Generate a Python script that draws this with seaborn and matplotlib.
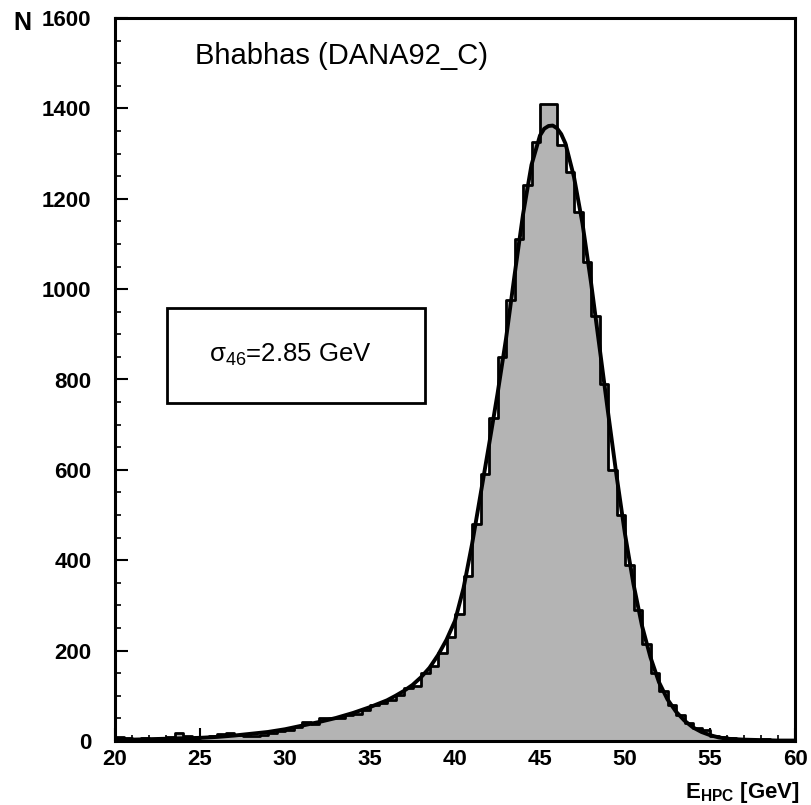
import numpy as np
import pandas as pd
import matplotlib
matplotlib.use("Agg")
import matplotlib.pyplot as plt
from matplotlib.patches import Rectangle
from matplotlib.ticker import MultipleLocator
import seaborn as sns

# ---- data ----
bin_edges = [20.0 + 0.5 * i for i in range(81)]
bin_counts = [
    8, 7, 5, 6, 4, 6, 9, 18, 12, 6,          # 20.0 - 24.5
    8, 10, 16, 18, 13, 10, 11, 14, 17, 22,    # 25.0 - 29.5
    24, 32, 42, 38, 50, 50, 52, 58, 60, 68,   # 30.0 - 34.5
    80, 84, 90, 102, 118, 122, 150, 165, 195, 230,  # 35.0 - 39.5
    280, 365, 480, 590, 715, 850, 975, 1110, 1230, 1325,  # 40.0 - 44.5
    1410, 1410, 1320, 1260, 1170, 1060, 940, 790, 600, 500,  # 45.0 - 49.5
    390, 290, 215, 150, 110, 80, 58, 40, 28, 25,  # 50.0 - 54.5
    12, 8, 6, 4, 5, 3, 4, 2, 3, 2,             # 55.0 - 59.5
]

fit_x = [20, 21, 22, 23, 24, 25, 26, 27, 28, 29, 30, 31, 32, 33, 34, 35, 36,
         36.5, 37, 37.5, 38, 38.5, 39, 39.5, 40, 40.5, 41, 41.5, 42, 42.5,
         43, 43.5, 44, 44.5, 45, 45.25, 45.5, 45.75, 46, 46.25, 46.5, 47,
         47.5, 48, 48.5, 49, 49.5, 50, 50.5, 51, 51.5, 52, 52.5, 53, 53.5,
         54, 54.5, 55, 55.5, 56, 57, 58, 59, 60]
fit_y = [3, 3, 4, 5, 6, 7, 9, 12, 16, 20, 26, 34, 42, 51, 62, 75, 90,
         100, 111, 124, 141, 162, 190, 224, 266, 338, 435, 545, 655, 768,
         890, 1030, 1165, 1275, 1340, 1355, 1361, 1362, 1356, 1343, 1322, 1248,
         1145, 1015, 872, 728, 588, 458, 347, 255, 185, 130, 92, 65, 45,
         30, 20, 13, 8, 5, 3, 2, 1, 1]

x_ticks = [20, 25, 30, 35, 40, 45, 50, 55, 60]
y_ticks = [0, 200, 400, 600, 800, 1000, 1200, 1400, 1600]

title_text = "Bhabhas (DANA92_C)"
box_text = r"σ$_{46}$=2.85 GeV"
x_label = r"$\mathbf{E_{HPC}}$ [GeV]"
y_label = "N"

# ---- styling ----
sns.set_style("white")
plt.rcParams["font.family"] = ["Liberation Sans", "DejaVu Sans"]
plt.rcParams["mathtext.fontset"] = "custom"
plt.rcParams["mathtext.rm"] = "Liberation Sans"
plt.rcParams["mathtext.bf"] = "Liberation Sans:bold"
plt.rcParams["mathtext.it"] = "Liberation Sans:italic"
plt.rcParams["text.color"] = "black"
plt.rcParams["xtick.color"] = "black"
plt.rcParams["ytick.color"] = "black"

fig = plt.figure(figsize=(8.11, 8.05), dpi=100)
ax = fig.add_axes([115 / 811, 1 - 741 / 805, 680 / 811, 723 / 805])

centers = [(bin_edges[i] + bin_edges[i + 1]) / 2 for i in range(len(bin_counts))]
df = pd.DataFrame({"E": centers, "N": bin_counts})
sns.histplot(data=df, x="E", weights="N", bins=bin_edges, element="step",
             fill=True, color="#b4b4b4", alpha=1.0, edgecolor="black",
             linewidth=2.0, ax=ax)
fit_df = pd.DataFrame({"E": fit_x, "N": fit_y})
sns.lineplot(data=fit_df, x="E", y="N", color="black", linewidth=2.8, ax=ax,
             sort=False)

ax.set_xlim(20, 60)
ax.set_ylim(0, 1600)
ax.set_xlabel("")
ax.set_ylabel("")
ax.set_xticks(x_ticks)
ax.set_yticks(y_ticks)
ax.set_xticklabels([str(t) for t in x_ticks], fontsize=16, fontweight="bold",
                   color="black")
ax.set_yticklabels([str(t) for t in y_ticks], fontsize=16, fontweight="bold",
                   color="black")
ax.xaxis.set_minor_locator(MultipleLocator(1))
ax.yaxis.set_minor_locator(MultipleLocator(50))
ax.tick_params(axis="both", which="major", direction="in", length=9.5,
               width=1.5, color="black")
ax.tick_params(axis="both", which="minor", direction="in", length=4,
               width=1.2, color="black")
ax.tick_params(axis="y", which="both", left=True, right=False, pad=17)
ax.tick_params(axis="x", which="both", bottom=True, top=False, pad=6)
for s in ax.spines.values():
    s.set_visible(True)
    s.set_color("black")
    s.set_linewidth(2.2)

fig.text(13 / 811, 1 - 30 / 805, y_label, fontsize=18, fontweight="bold",
         ha="left", va="baseline", color="black")
fig.text(800 / 811, 1 - 798 / 805, x_label, fontsize=16, fontweight="bold",
         ha="right", va="baseline", color="black")
ax.text((195 - 115) / 680, (741 - 64) / 723, title_text, transform=ax.transAxes,
        fontsize=21, ha="left", va="baseline", color="black")

rect = Rectangle(((167 - 115) / 680, (741 - 403) / 723), 258 / 680, 95 / 723,
                 transform=ax.transAxes, fill=True, facecolor="white",
                 edgecolor="black", linewidth=2.0, zorder=5)
ax.add_patch(rect)
ax.text((290 - 115) / 680, (741 - 355) / 723, box_text, transform=ax.transAxes,
        fontsize=18.5, ha="center", va="center", zorder=6, color="black")

fig.savefig("out.png", dpi=100)
